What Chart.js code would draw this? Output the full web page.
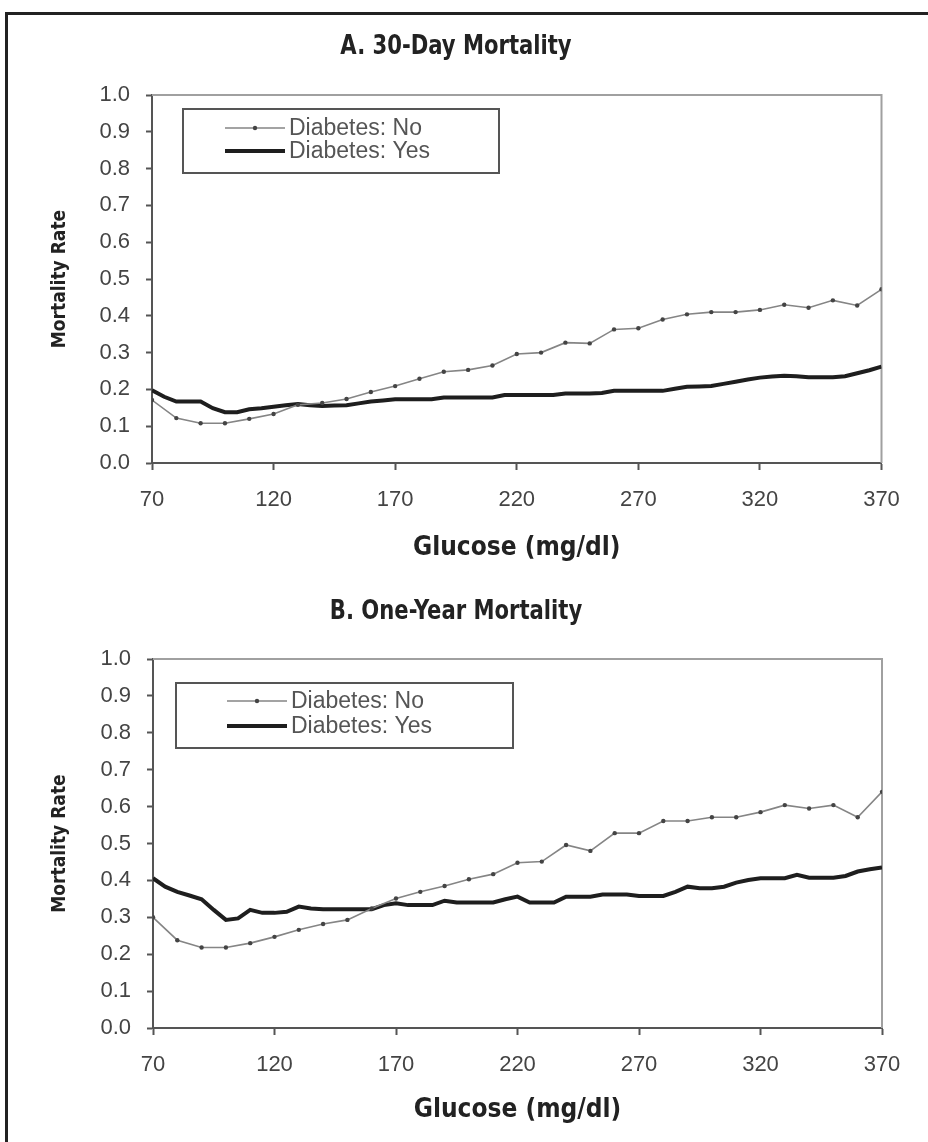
<!DOCTYPE html>
<html>
<head>
<meta charset="utf-8">
<script src="https://cdn.jsdelivr.net/npm/chart.js@4/dist/chart.umd.min.js"></script>
<style>
  html, body { margin: 0; padding: 0; background: #fff; }
  body { width: 928px; height: 1142px; position: relative; overflow: hidden; }
  #frame { position: absolute; left: 5px; top: 12px; width: 960px; height: 1200px;
           border-left: 3px solid #222; border-top: 3px solid #222; }
  canvas { position: absolute; left: 0; }
  #chartA { top: 0; }
  #chartB { top: 585px; }
</style>
</head>
<body>
<div id="frame"></div>
<canvas id="chartA" width="928" height="585"></canvas>
<canvas id="chartB" width="928" height="557"></canvas>
<script>
// glucose (mg/dl) where the "No" series has markers
const glucose = [70, 80, 90, 100, 110, 120, 130, 140, 150, 160, 170, 180, 190, 200, 210, 220,
                 230, 240, 250, 260, 270, 280, 290, 300, 310, 320, 330, 340, 350, 360, 370];
// finer grid for the "Yes" series
const glucoseFine = [70, 75, 80, 85, 90, 95, 100, 105, 110, 115, 120, 125, 130, 135, 140, 145,
                     150, 155, 160, 165, 170, 175, 180, 185, 190, 195, 200, 205, 210, 215, 220,
                     225, 230, 235, 240, 245, 250, 255, 260, 265, 270, 275, 280, 285, 290, 295,
                     300, 305, 310, 315, 320, 325, 330, 335, 340, 345, 350, 355, 360, 365, 370];

// A. 30-day mortality
const noA = [0.171, 0.122, 0.108, 0.108, 0.120, 0.133, 0.158, 0.163, 0.174, 0.193, 0.209, 0.229,
             0.248, 0.253, 0.265, 0.296, 0.300, 0.327, 0.325, 0.363, 0.366, 0.390, 0.404, 0.410,
             0.410, 0.416, 0.430, 0.422, 0.442, 0.428, 0.472];
const yesA = [0.198, 0.180, 0.167, 0.167, 0.167, 0.149, 0.138, 0.138, 0.146, 0.149, 0.153, 0.157,
              0.160, 0.157, 0.155, 0.156, 0.157, 0.162, 0.167, 0.170, 0.173, 0.173, 0.173, 0.173,
              0.178, 0.178, 0.178, 0.178, 0.178, 0.185, 0.185, 0.185, 0.185, 0.185, 0.189, 0.189,
              0.189, 0.190, 0.196, 0.196, 0.196, 0.196, 0.196, 0.202, 0.207, 0.208, 0.209, 0.215,
              0.221, 0.227, 0.232, 0.235, 0.237, 0.236, 0.233, 0.233, 0.233, 0.236, 0.244, 0.252, 0.262];

// B. one-year mortality
const noB = [0.300, 0.238, 0.218, 0.218, 0.230, 0.247, 0.266, 0.282, 0.293, 0.324, 0.351, 0.369,
             0.385, 0.403, 0.417, 0.448, 0.451, 0.496, 0.480, 0.528, 0.528, 0.561, 0.561, 0.571,
             0.571, 0.585, 0.604, 0.595, 0.604, 0.571, 0.640];
const yesB = [0.406, 0.383, 0.369, 0.359, 0.349, 0.320, 0.293, 0.297, 0.320, 0.312, 0.312, 0.315,
              0.329, 0.324, 0.322, 0.322, 0.322, 0.322, 0.322, 0.333, 0.338, 0.333, 0.333, 0.333,
              0.345, 0.340, 0.340, 0.340, 0.340, 0.349, 0.356, 0.340, 0.340, 0.340, 0.356, 0.356,
              0.356, 0.362, 0.362, 0.362, 0.358, 0.358, 0.358, 0.369, 0.383, 0.379, 0.379, 0.383,
              0.394, 0.401, 0.406, 0.406, 0.406, 0.415, 0.407, 0.407, 0.407, 0.412, 0.424, 0.430, 0.435];

const seriesLabels = ['Diabetes: No', 'Diabetes: Yes'];
const xTicks = [70, 120, 170, 220, 270, 320, 370];

const narrow = "'Liberation Sans Narrow', 'DejaVu Sans Condensed', sans-serif";
const plain = "'Liberation Sans', Arial, sans-serif";

const pts = (xs, ys) => xs.map((x, i) => ({x: x, y: ys[i]}));

// panel title, plot frame (top/right edges) and a boxed legend inside the plot
const framePlugin = {
    id: 'boxLegend',
    beforeDatasetsDraw(chart) {
        const {ctx, chartArea: a} = chart;
        ctx.save();
        ctx.strokeStyle = '#a0a0a0';
        ctx.lineWidth = 2;
        ctx.beginPath();
        ctx.moveTo(a.left, a.top);
        ctx.lineTo(a.right, a.top);
        ctx.lineTo(a.right, a.bottom);
        ctx.stroke();
        ctx.restore();
    },
    afterDraw(chart, args, opts) {
        const {ctx, chartArea: a} = chart;

        // title, condensed a bit to look like Arial Narrow
        ctx.save();
        ctx.translate(opts.titleX, opts.titleY);
        ctx.scale(0.87, 1);
        ctx.font = 'bold 27px ' + narrow;
        ctx.fillStyle = '#222';
        ctx.textAlign = 'center';
        ctx.textBaseline = 'middle';
        ctx.fillText(opts.title, 0, 0);
        ctx.restore();

        const bx = a.left + opts.x, by = a.top + opts.y;
        ctx.save();
        ctx.fillStyle = '#fff';
        ctx.fillRect(bx, by, opts.w, opts.h);
        ctx.strokeStyle = '#555';
        ctx.lineWidth = 2;
        ctx.strokeRect(bx, by, opts.w, opts.h);
        ctx.font = '23px ' + plain;
        ctx.textBaseline = 'middle';
        chart.data.datasets.forEach((ds, i) => {
            const y = by + opts.row0 + i * opts.rowGap;
            const x0 = bx + opts.lineX;
            ctx.strokeStyle = ds.borderColor;
            ctx.lineWidth = ds.borderWidth;
            ctx.beginPath();
            ctx.moveTo(x0, y);
            ctx.lineTo(x0 + 60, y);
            ctx.stroke();
            if (ds.pointRadius > 0) {
                ctx.fillStyle = ds.pointBackgroundColor;
                ctx.beginPath();
                ctx.arc(x0 + 30, y, ds.pointRadius, 0, Math.PI * 2);
                ctx.fill();
            }
            ctx.fillStyle = '#555';
            ctx.fillText(ds.label, x0 + 64, y + 1);
        });
        ctx.restore();
    }
};

function makeChart(id, title, noVals, yesVals, lay) {
    return new Chart(document.getElementById(id), {
        type: 'line',
        data: {
            datasets: [{
                label: seriesLabels[0],
                data: pts(glucose, noVals),
                borderColor: '#858585',
                borderWidth: 1.6,
                pointRadius: 2.2,
                pointBackgroundColor: '#444',
                pointBorderWidth: 0,
                tension: 0
            }, {
                label: seriesLabels[1],
                data: pts(glucoseFine, yesVals),
                borderColor: '#1e1e1e',
                borderWidth: 4,
                pointRadius: 0,
                tension: 0
            }]
        },
        options: {
            responsive: false,
            animation: false,
            devicePixelRatio: 1,
            layout: { padding: { left: 0, right: lay.padRight, top: lay.padTop, bottom: 0 } },
            plugins: {
                legend: { display: false },
                tooltip: { enabled: false },
                title: { display: false },
                boxLegend: Object.assign({ title: title }, lay.legend)
            },
            scales: {
                x: {
                    type: 'linear',
                    min: 70,
                    max: 370,
                    afterBuildTicks: s => { s.ticks = xTicks.map(v => ({value: v})); },
                    afterFit: s => { s.height = lay.xHeight; },
                    border: { color: '#555', width: 2 },
                    grid: { drawOnChartArea: false, tickLength: 7, color: '#555', tickWidth: 2 },
                    ticks: {
                        color: '#444',
                        padding: 17,
                        maxRotation: 0,
                        font: { family: plain, size: 22 }
                    },
                    title: {
                        display: true,
                        text: 'Glucose (mg/dl)',
                        color: '#222',
                        font: { family: narrow, size: 26, weight: 'bold', lineHeight: 1.2 },
                        padding: { top: 0, bottom: lay.xTitleBottom }
                    }
                },
                y: {
                    min: 0,
                    max: 1,
                    afterFit: s => { s.width = lay.yWidth; },
                    border: { color: '#555', width: 2 },
                    grid: { drawOnChartArea: false, tickLength: 6, color: '#555', tickWidth: 2 },
                    ticks: {
                        stepSize: 0.1,
                        color: '#444',
                        padding: 16,
                        font: { family: plain, size: 22 },
                        callback: v => v.toFixed(1)
                    },
                    title: {
                        display: true,
                        text: 'Mortality Rate',
                        color: '#222',
                        font: { family: narrow, size: 19, weight: 'bold', lineHeight: 1.2 },
                        padding: { top: 49, bottom: 0 }
                    }
                }
            }
        },
        plugins: [framePlugin]
    });
}

makeChart('chartA', 'A. 30-Day Mortality', noA, yesA, {
    padRight: 46.5, padTop: 95, xHeight: 122, yWidth: 152, xTitleBottom: 21,
    legend: { titleX: 456, titleY: 47, x: 31, y: 14, w: 316, h: 64, lineX: 42, row0: 19, rowGap: 23 }
});
makeChart('chartB', 'B. One-Year Mortality', noB, yesB, {
    padRight: 46, padTop: 74, xHeight: 114, yWidth: 153, xTitleBottom: 16,
    legend: { titleX: 456, titleY: 27, x: 23, y: 24, w: 337, h: 65, lineX: 51, row0: 18, rowGap: 25 }
});
</script>
</body>
</html>
